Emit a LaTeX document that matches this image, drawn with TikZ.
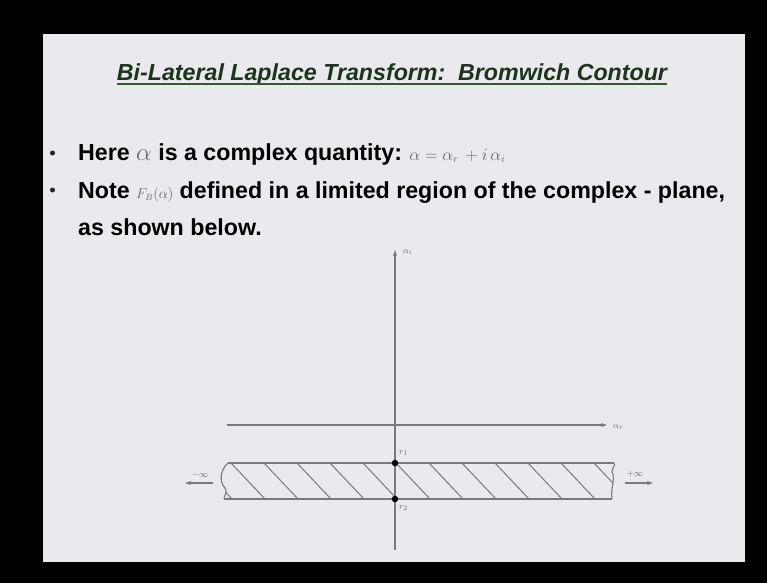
\documentclass[tikz,border=0pt]{standalone}
\usepackage{fontspec}
\setmainfont{Liberation Sans}
\usetikzlibrary{arrows.meta}
\definecolor{slidebg}{HTML}{E9E9EE}
\definecolor{titlegreen}{HTML}{1C331C}
\definecolor{lineg}{HTML}{2E5E2E}
\definecolor{axisgrey}{HTML}{7A7A7A}
\definecolor{mathgrey}{HTML}{6A6A6A}
\begin{document}
\begin{tikzpicture}[x=1pt,y=-1pt]
        \tikzstyle{bodytext}=[anchor=base west, inner sep=0pt, font=\fontsize{23.2}{28}\selectfont\bfseries]
        \tikzstyle{bulletdot}=[circle, fill=black!85, minimum size=5pt, inner sep=0pt]
        \tikzstyle{axis}=[draw=axisgrey, line width=1.1pt, -{Stealth[length=6pt,width=4pt]}]
        \tikzstyle{tinylabel}=[inner sep=0pt, text=mathgrey, font=\fontsize{9.5}{9.5}\selectfont]
        \tikzstyle{pole}=[circle, fill=black, minimum size=6.5pt, inner sep=0pt]

        % slide
        \fill[black] (0,0) rectangle (767,583);
        \useasboundingbox (0,0) rectangle (767,583);
        \fill[slidebg] (43,34) rectangle (745,562);

        % title and text
        \node[anchor=base, inner sep=0pt, text=titlegreen, font=\fontsize{23.2}{28}\selectfont\bfseries\itshape] (title) at (392,81) {Bi-Lateral Laplace Transform:\ \ Bromwich Contour};
        \draw[lineg, line width=1.8pt] ([yshift=-3pt]title.base west) -- ([yshift=-3pt]title.base east);

        \node[bulletdot] (b1) at (52.5,153) {};
        \node[bulletdot] (b2) at (52.5,190) {};
        \node[bodytext] (l1) at (78,160) {Here \textcolor{mathgrey}{$\alpha$} is a complex quantity:};
        \node[anchor=base west, inner sep=0pt, text=mathgrey, font=\fontsize{16}{16}\selectfont] (eq) at ([xshift=7pt]l1.base east) {$\alpha = \alpha_r \,+ i\,\alpha_i$};
        \node[bodytext] (l2) at (78,198) {Note\ \textcolor{mathgrey}{\fontsize{13.5}{13.5}\selectfont$F_B(\alpha)$} defined in a limited region of the complex - plane,};
        \node[bodytext] (l3) at (78,235) {as shown below.};

        % axes
        \coordinate (o) at (395,425);
        \coordinate (ibot) at (395,550);
        \coordinate (itop) at (395,250);
        \coordinate (rleft) at (227,425);
        \coordinate (rright) at (607,425);
        \draw[axis] (ibot) -- (itop);
        \draw[axis] (rleft) -- (rright);
        \node[tinylabel, anchor=west] (ai) at (403,252) {$\alpha_i$};
        \node[tinylabel, anchor=west] (ar) at (613,427) {$\alpha_r$};

        % strip
        \begin{scope}
          \clip (228,463) .. controls (220,470) and (219,482) .. (225,488) .. controls (228,492) and (224,496) .. (224,499)
                -- (612,499) .. controls (610,490) and (616,478) .. (612,472) .. controls (612,468) and (616,465) .. (614,463) -- cycle;
          \foreach \x in {198,231,...,640}
            \draw[axisgrey, line width=1pt] (\x,463) -- (\x+34,499);
        \end{scope}
        \draw[axisgrey, line width=1.1pt] (228,463) -- (614,463);
        \draw[axisgrey, line width=1.1pt] (224,499) -- (612,499);
        \draw[axisgrey, line width=1.1pt] (228,463) .. controls (220,470) and (219,482) .. (225,488) .. controls (228,492) and (224,496) .. (224,499);
        \draw[axisgrey, line width=1.1pt] (612,499) .. controls (610,490) and (616,478) .. (612,472) .. controls (612,468) and (616,465) .. (614,463);

        % points on the imaginary axis
        \node[pole] (p1) at (395,463) {};
        \node[pole] (p2) at (395,499) {};
        \node[tinylabel, anchor=west] (p1lab) at (399,453) {$r_1$};
        \node[tinylabel, anchor=west] (p2lab) at (399,508) {$r_2$};

        % infinity arrows
        \coordinate (la) at (213,483);
        \coordinate (lb) at (185,483);
        \coordinate (ra) at (625,483);
        \coordinate (rb) at (653,483);
        \draw[axis] (la) -- (lb);
        \draw[axis] (ra) -- (rb);
        \node[tinylabel] (minf) at (200,475) {$-\infty$};
        \node[tinylabel] (pinf) at (635,474) {$+\infty$};
\end{tikzpicture}
\end{document}
